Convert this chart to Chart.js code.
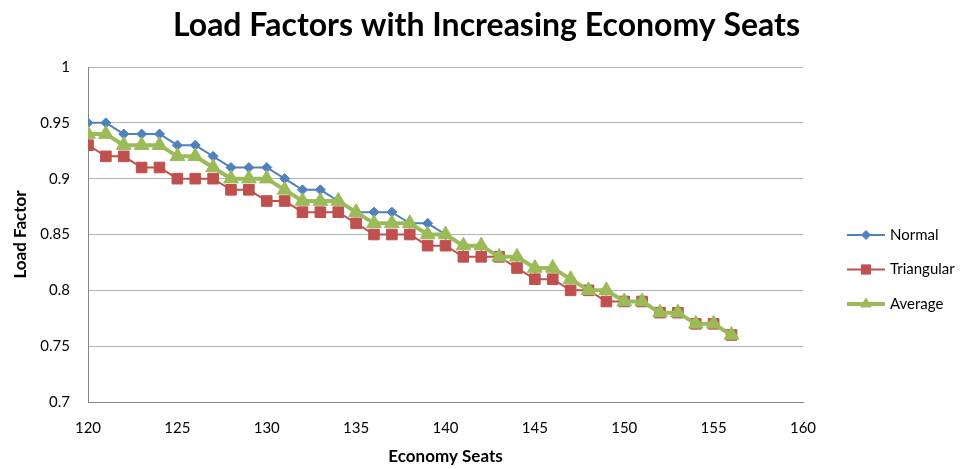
<!DOCTYPE html>
<html>
<head>
<meta charset="utf-8">
<script src="https://cdn.jsdelivr.net/npm/chart.js@4.4.1/dist/chart.umd.min.js"></script>
<style>
  html, body { margin: 0; padding: 0; background: #ffffff; }
  #wrap { width: 973px; height: 469px; }
</style>
</head>
<body>
<div id="wrap"><canvas id="chart" width="973" height="469"></canvas></div>
<script>
// Economy seat counts (x) and the resulting load factor for each demand model
const seats = [120, 121, 122, 123, 124, 125, 126, 127, 128, 129, 130, 131, 132, 133, 134, 135, 136, 137, 138,
               139, 140, 141, 142, 143, 144, 145, 146, 147, 148, 149, 150, 151, 152, 153, 154, 155, 156];
const normal = [0.95, 0.95, 0.94, 0.94, 0.94, 0.93, 0.93, 0.92, 0.91, 0.91, 0.91, 0.90, 0.89, 0.89, 0.88, 0.87, 0.87, 0.87, 0.86,
                0.86, 0.85, 0.84, 0.84, 0.83, 0.83, 0.82, 0.82, 0.81, 0.80, 0.80, 0.79, 0.79, 0.78, 0.78, 0.77, 0.77, 0.76];
const triangular = [0.93, 0.92, 0.92, 0.91, 0.91, 0.90, 0.90, 0.90, 0.89, 0.89, 0.88, 0.88, 0.87, 0.87, 0.87, 0.86, 0.85, 0.85, 0.85,
                    0.84, 0.84, 0.83, 0.83, 0.83, 0.82, 0.81, 0.81, 0.80, 0.80, 0.79, 0.79, 0.79, 0.78, 0.78, 0.77, 0.77, 0.76];
const average = [0.94, 0.94, 0.93, 0.93, 0.93, 0.92, 0.92, 0.91, 0.90, 0.90, 0.90, 0.89, 0.88, 0.88, 0.88, 0.87, 0.86, 0.86, 0.86,
                 0.85, 0.85, 0.84, 0.84, 0.83, 0.83, 0.82, 0.82, 0.81, 0.80, 0.80, 0.79, 0.79, 0.78, 0.78, 0.77, 0.77, 0.76];

const seriesNames = ['Normal', 'Triangular', 'Average'];
const chartTitle = 'Load Factors with Increasing Economy Seats';
const xRange = { min: 120, max: 160, step: 5 };
const yRange = { min: 0.7, max: 1, step: 0.05 };

const FONT = 'Lato, "Open Sans", "DejaVu Sans", sans-serif';

const toPoints = (values) => seats.map((s, i) => ({ x: s, y: values[i] }));

// Title centred across the whole canvas, above the plot
const pageTitle = {
  id: 'pageTitle',
  afterDraw(chart) {
    const ctx = chart.ctx;
    ctx.save();
    ctx.fillStyle = '#000000';
    ctx.font = 'bold 32px ' + FONT;
    ctx.textAlign = 'center';
    ctx.textBaseline = 'alphabetic';
    ctx.fillText(chartTitle, chart.width / 2, 36);
    ctx.restore();
  }
};

// Legend at the right: a short line with the series marker, then the name
const sideLegend = {
  id: 'sideLegend',
  afterDraw(chart) {
    const ctx = chart.ctx;
    const area = chart.chartArea;
    const x0 = area.right + 44;
    const y0 = 235;
    const gap = 34.5;
    const lineLen = 38;
    chart.data.datasets.forEach((ds, i) => {
      const y = y0 + i * gap;
      ctx.save();
      ctx.strokeStyle = ds.borderColor;
      ctx.lineWidth = ds.borderWidth;
      ctx.beginPath();
      ctx.moveTo(x0, y);
      ctx.lineTo(x0 + lineLen, y);
      ctx.stroke();
      ctx.fillStyle = ds.pointBackgroundColor;
      ctx.strokeStyle = ds.pointBorderColor;
      ctx.lineWidth = 1;
      Chart.helpers.drawPoint(ctx, { pointStyle: ds.pointStyle, radius: ds.legendRadius, borderWidth: 1, rotation: 0 },
        x0 + lineLen / 2, y);
      ctx.fillStyle = '#000000';
      ctx.font = '15px ' + FONT;
      ctx.textAlign = 'left';
      ctx.textBaseline = 'middle';
      ctx.fillText(ds.label, x0 + lineLen + 5, y);
      ctx.restore();
    });
  }
};

const ctx = document.getElementById('chart').getContext('2d');
new Chart(ctx, {
  type: 'line',
  data: {
    datasets: [
      {
        label: seriesNames[0],
        data: toPoints(normal),
        borderColor: '#4F81BD',
        backgroundColor: '#4F81BD',
        pointBackgroundColor: '#4F81BD',
        pointBorderColor: '#4F81BD',
        borderWidth: 2,
        pointStyle: 'rectRot',
        pointRadius: 5,
        pointBorderWidth: 1,
        legendRadius: 4.5,
        order: 3
      },
      {
        label: seriesNames[1],
        data: toPoints(triangular),
        borderColor: '#C0504D',
        backgroundColor: '#C0504D',
        pointBackgroundColor: '#C0504D',
        pointBorderColor: '#C0504D',
        borderWidth: 2,
        pointStyle: 'rect',
        pointRadius: 7.5,
        pointBorderWidth: 1,
        legendRadius: 6.5,
        order: 2
      },
      {
        label: seriesNames[2],
        data: toPoints(average),
        borderColor: '#9BBB59',
        backgroundColor: '#9BBB59',
        pointBackgroundColor: '#9BBB59',
        pointBorderColor: '#9BBB59',
        borderWidth: 4,
        pointStyle: 'triangle',
        pointRadius: 8.5,
        pointBorderWidth: 1,
        legendRadius: 6,
        order: 1
      }
    ]
  },
  options: {
    responsive: false,
    animation: false,
    devicePixelRatio: 1,
    layout: { padding: { left: 0, right: 170, top: 67, bottom: 0 } },
    elements: { line: { tension: 0 } },
    plugins: {
      legend: { display: false },
      tooltip: { enabled: false },
      title: { display: false }
    },
    scales: {
      x: {
        type: 'linear',
        min: xRange.min,
        max: xRange.max,
        grid: { display: false, drawTicks: false },
        border: { display: true, color: '#868686', width: 1 },
        ticks: {
          stepSize: xRange.step,
          color: '#000000',
          font: { family: FONT, size: 15 },
          padding: 17,
          maxRotation: 0
        },
        title: {
          display: true,
          text: 'Economy Seats',
          color: '#000000',
          font: { family: FONT, size: 17, weight: 'bold' },
          padding: { top: 0, bottom: 2 }
        },
        afterFit(scale) { scale.height = 67; }
      },
      y: {
        type: 'linear',
        min: yRange.min,
        max: yRange.max,
        grid: { color: '#B3B3B3', drawTicks: false, lineWidth: 1 },
        border: { display: true, color: '#868686', width: 1 },
        ticks: {
          stepSize: yRange.step,
          color: '#000000',
          font: { family: FONT, size: 15 },
          padding: 18,
          callback: (v) => String(+v.toFixed(2))
        },
        title: {
          display: true,
          text: 'Load Factor',
          color: '#000000',
          font: { family: FONT, size: 17, weight: 'bold' },
          padding: { top: 10, bottom: 0 }
        },
        afterFit(scale) { scale.width = 88; }
      }
    }
  },
  plugins: [pageTitle, sideLegend]
});
</script>
</body>
</html>
